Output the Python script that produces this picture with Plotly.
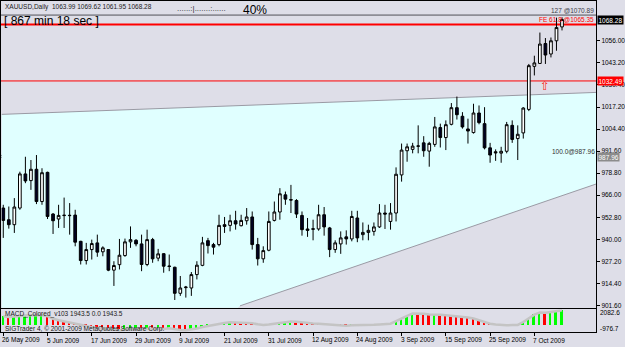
import plotly.graph_objects as go

# ---------------- data ----------------
opens = [958.4, 951.6, 948.7, 958.4, 978.3, 974.4, 981.0, 962.2, 979.2, 954.9,
         952.0, 954.0, 954.2, 954.3, 939.0, 927.8, 934.2, 938.1, 932.9, 934.2,
         922.2, 925.4, 930.7, 938.7, 939.6, 937.5, 925.5, 940.0, 929.2, 931.8,
         924.6, 923.9, 908.7, 912.0, 911.8, 919.6, 925.0, 939.4, 937.1, 937.1,
         948.7, 948.3, 951.0, 948.1, 951.0, 953.2, 937.1, 928.8, 933.8, 951.2,
         956.1, 966.1, 963.3, 962.8, 954.1, 946.2, 946.3, 946.2, 954.5, 946.8,
         934.2, 937.5, 941.6, 940.4, 952.6, 942.9, 944.2, 944.8, 947.4, 955.5,
         950.6, 955.5, 977.7, 991.8, 992.6, 994.4, 996.4, 991.6, 995.5, 1005.3,
         999.5, 1007.2, 1016.9, 1011.9, 1004.5, 1002.4, 1013.8, 1007.6, 993.5, 991.2,
         990.4, 991.5, 1006.6, 998.9, 1002.2, 1015.9, 1041.0, 1042.7, 1054.3, 1048.2,
         1055.9, 1063.99]
highs = [960.3, 959.3, 964.2, 979.6, 988.3, 986.4, 989.3, 981.6, 979.6, 955.5,
         960.3, 964.5, 961.3, 957.4, 939.3, 938.1, 940.0, 942.9, 936.1, 934.4,
         927.4, 940.4, 940.6, 947.7, 940.3, 942.9, 945.8, 941.0, 934.6, 932.0,
         931.3, 924.2, 918.8, 913.0, 921.1, 927.4, 941.6, 941.0, 938.1, 954.5,
         953.2, 954.5, 956.8, 954.5, 958.4, 956.4, 941.0, 936.1, 956.4, 962.2,
         970.0, 968.0, 971.9, 963.6, 956.4, 952.6, 951.6, 960.3, 959.0, 947.4,
         939.6, 944.8, 945.4, 956.8, 956.8, 950.0, 948.7, 950.0, 960.7, 960.3,
         961.3, 982.1, 996.0, 996.0, 996.4, 1006.6, 1000.3, 997.0, 1011.5, 1007.6,
         1009.5, 1019.6, 1023.4, 1014.3, 1010.5, 1019.2, 1018.2, 1017.2, 996.4, 992.6,
         994.1, 1008.6, 1009.5, 1006.6, 1017.2, 1042.4, 1047.2, 1060.7, 1057.5, 1057.8,
         1069.4, 1069.62]
lows = [941.0, 946.4, 943.9, 957.4, 972.9, 969.0, 960.7, 960.3, 952.0, 943.3,
        946.8, 946.8, 942.9, 936.1, 925.5, 925.5, 928.4, 930.0, 930.3, 921.6,
        913.0, 922.6, 930.0, 935.2, 936.1, 921.6, 924.5, 926.5, 927.4, 920.7,
        921.6, 904.8, 907.2, 906.2, 907.2, 916.8, 924.5, 931.9, 931.3, 936.1,
        943.9, 944.8, 945.8, 947.7, 948.7, 934.2, 924.9, 926.5, 933.2, 950.6,
        951.6, 960.3, 955.5, 952.6, 942.3, 941.6, 939.6, 945.2, 942.3, 929.8,
        932.3, 931.7, 937.1, 939.0, 938.5, 939.6, 939.6, 942.3, 946.8, 946.2,
        945.8, 950.6, 973.8, 985.4, 990.3, 990.3, 988.3, 982.5, 994.1, 993.7,
        992.2, 1006.6, 1010.0, 1004.7, 996.0, 1001.8, 1007.2, 992.6, 984.8, 985.9,
        984.8, 990.3, 996.4, 986.4, 998.9, 1014.9, 1035.7, 1042.4, 1042.4, 1046.2,
        1050.1, 1061.95]
closes = [951.2, 948.7, 959.0, 978.3, 974.2, 981.0, 962.2, 979.0, 953.5, 951.0,
          954.1, 954.2, 954.0, 938.5, 927.8, 934.2, 937.7, 932.7, 935.2, 922.2,
          924.9, 930.9, 938.7, 940.0, 937.5, 925.5, 940.0, 928.8, 931.7, 924.5,
          924.4, 908.7, 911.8, 912.3, 919.6, 925.1, 938.1, 936.5, 935.6, 948.3,
          947.7, 951.0, 949.1, 951.2, 953.2, 937.1, 928.8, 933.6, 950.6, 956.1,
          966.7, 963.6, 963.1, 954.9, 945.8, 945.4, 946.1, 954.5, 947.4, 934.2,
          938.1, 941.0, 940.4, 953.5, 941.0, 944.2, 945.4, 947.4, 955.5, 954.9,
          955.5, 978.1, 992.2, 994.1, 994.5, 994.6, 991.8, 996.1, 1005.7, 999.5,
          1007.0, 1016.9, 1012.8, 1005.7, 1003.3, 1013.8, 1008.2, 993.5, 989.3, 990.6,
          991.5, 1007.0, 998.4, 1001.4, 1016.7, 1041.4, 1043.0, 1054.0, 1047.6, 1055.9,
          1063.6, 1068.28]
macd = [1150, 1050, 1100, 1200, 1250, 1280, 1300, 1320, 1150, 800,
        600, 450, 300, 100, -100, -250, -350, -450, -500, -600,
        -700, -720, -680, -600, -560, -580, -520, -540, -530, -560,
        -450, -600, -700, -720, -650, -500, -300, -150, -20, 150,
        250, 330, 320, 300, 290, 200, 60, -20, 40, 150,
        300, 380, 430, 400, 300, 220, 160, 150, 100, -30,
        -90, -110, -120, -60, -70, -60, -40, -10, 40, 80,
        140, 500, 900, 1200, 1500, 1490, 1460, 1360, 1370, 1330,
        1260, 1200, 1120, 1050, 980, 830, 600, 380, 150, 50,
        -30, -60, -40, -20, 370, 820, 1360, 1630, 1600, 1720,
        1860, 1943.5]

tick_bars = [0, 8, 16, 24, 32, 40, 48, 56, 64, 72, 80, 88, 96]
tick_labels = ["26 May 2009", "5 Jun 2009", "17 Jun 2009", "29 Jun 2009", "9 Jul 2009",
               "21 Jul 2009", "31 Jul 2009", "12 Aug 2009", "24 Aug 2009", "3 Sep 2009",
               "15 Sep 2009", "25 Sep 2009", "7 Oct 2009"]
price_ticks = [901.60, 914.40, 927.20, 940.00, 952.80, 966.00, 978.80, 991.60,
               1004.40, 1017.20, 1030.40, 1043.20, 1056.00]

fib127 = 1070.89
fe618 = 1065.35
red_level = 1032.49
fib100 = 987.96
bid = 1068.28
macd_max, macd_min = 2082.6, -976.7
# drawn channel objects: (bar, price) end points
chan_upper = [(-0.32, 1013.0), (107.16, 1025.8)]
chan_lower = [(42.8, 901.4), (107.16, 972.4)]
arrow_bar, arrow_price = 98, 1029.5

# ---------------- figure ----------------
W, H = 625, 347
BG = "#dedee8"
CYAN = "#e0ffff"
FONT = "Liberation Sans"
xs = list(range(len(closes)))


def py(y):
    return 1 - y / H


fig = go.Figure()
fig.add_trace(go.Candlestick(
    x=xs, open=opens, high=highs, low=lows, close=closes,
    increasing=dict(line=dict(color="black", width=1), fillcolor="white"),
    decreasing=dict(line=dict(color="black", width=1), fillcolor="#000022"),
    whiskerwidth=0, hoverinfo="skip", xaxis="x", yaxis="y"))

bar_colors = ["#00ff00" if (i == 0 or macd[i] >= macd[i - 1]) else "#ff0000"
              for i in range(len(macd))]
fig.add_trace(go.Scatter(x=xs, y=macd, mode="lines",
                         line=dict(color="#c4c4c4", width=2.5),
                         hoverinfo="skip", xaxis="x2", yaxis="y2"))
fig.add_trace(go.Bar(x=xs, y=macd, marker=dict(color=bar_colors, line=dict(width=0)),
                     width=0.36, hoverinfo="skip", xaxis="x2", yaxis="y2"))

xr = [-0.32, 107.16]
ybot = 900.3
shapes = []
# channel fill
path = (f"M {chan_upper[0][0]},{chan_upper[0][1]} L {chan_upper[1][0]},{chan_upper[1][1]} "
        f"L {chan_lower[1][0]},{chan_lower[1][1]} L {chan_lower[0][0]},{chan_lower[0][1]} "
        f"L {chan_lower[0][0] - 1},{ybot - 2} L {chan_upper[0][0]},{ybot - 2} Z")
shapes.append(dict(type="path", path=path, xref="x", yref="y", fillcolor=CYAN,
                   line=dict(width=0), layer="below"))
for (a, b) in (chan_upper, chan_lower):
    shapes.append(dict(type="line", xref="x", yref="y", x0=a[0], y0=a[1], x1=b[0], y1=b[1],
                       line=dict(color="#9a9aa4", width=1), layer="below"))
# horizontal levels
shapes.append(dict(type="line", xref="paper", yref="y", x0=0, x1=597 / W, y0=fib127, y1=fib127,
                   line=dict(color="#505058", width=1), layer="below"))
shapes.append(dict(type="line", xref="paper", yref="y", x0=0, x1=597 / W, y0=fe618, y1=fe618,
                   line=dict(color="#ff0000", width=2), layer="below"))
shapes.append(dict(type="line", xref="paper", yref="y", x0=0, x1=597 / W, y0=red_level, y1=red_level,
                   line=dict(color="#ff0000", width=1), layer="below"))
for off in (0.0, 1.1):
    shapes.append(dict(type="line", xref="paper", yref="y", x0=0, x1=597 / W,
                       y0=fib100 + off, y1=fib100 + off,
                       line=dict(color="#6f7d82", width=1), layer="below"))

ann = []
small = dict(family=FONT, size=6.5, color="#000000")
for b, t in zip(tick_bars, tick_labels):
    ann.append(dict(x=b, xref="x2", y=py(341), yref="paper", text=t, showarrow=False,
                    xanchor="left", yanchor="middle", xshift=-2, font=small, borderpad=0))
ann.append(dict(x=3 / W, xref="paper", y=py(6), yref="paper",
                text="XAUUSD,Daily  1063.99 1069.62 1061.95 1068.28", showarrow=False,
                xanchor="left", yanchor="middle", font=dict(family=FONT, size=6.5, color="#202020"),
                borderpad=0))
ann.append(dict(x=176 / W, xref="paper", y=py(8), yref="paper", text="......:|.......:......",
                showarrow=False, xanchor="left", yanchor="middle",
                font=dict(family=FONT, size=8, color="#303030"), borderpad=0))
ann.append(dict(x=242 / W, xref="paper", y=py(9), yref="paper", text="40%", showarrow=False,
                xanchor="left", yanchor="middle", font=dict(family=FONT, size=12, color="#000000"),
                borderpad=0))
ann.append(dict(x=2 / W, xref="paper", y=py(20.5), yref="paper", text="[ 867 min 18 sec ]",
                showarrow=False, xanchor="left", yanchor="middle",
                font=dict(family=FONT, size=12, color="#000000"), borderpad=0))
ann.append(dict(x=596 / W, xref="paper", y=fib127, yref="y", text=f"127 @{fib127:.2f}",
                showarrow=False, xanchor="right", yanchor="bottom",
                font=dict(family=FONT, size=6.5, color="#404048"), borderpad=0))
ann.append(dict(x=596 / W, xref="paper", y=fe618, yref="y", text=f"FE 61.8 @{fe618:.2f}",
                showarrow=False, xanchor="right", yanchor="bottom", yshift=1,
                font=dict(family=FONT, size=6.5, color="#ff0000"), borderpad=0))
ann.append(dict(x=597 / W, xref="paper", y=fib100, yref="y", text=f"100.0@{fib100:.2f}",
                showarrow=False, xanchor="right", yanchor="bottom", yshift=1,
                font=dict(family=FONT, size=6.5, color="#303030"), borderpad=0))
for val, bgc in ((bid, "#000000"), (red_level, "#ff0000"), (fib100, "#8c8c8c")):
    ann.append(dict(x=598 / W, xref="paper", y=val, yref="y", text=f"{val:.2f}",
                    showarrow=False, xanchor="left", yanchor="middle", bgcolor=bgc,
                    font=dict(family=FONT, size=6.5, color="#ffffff"), borderpad=0.5))
ann.append(dict(x=arrow_bar, xref="x", y=arrow_price, yref="y", text="⇧", showarrow=False,
                font=dict(family="DejaVu Sans", size=12, color="#ff2020")))
ann.append(dict(x=3 / W, xref="paper", y=py(315), yref="paper",
                text=f"MACD_Colored_v103 {macd[-1]:.1f} 0.0 {macd[-1]:.1f}", showarrow=False,
                xanchor="left", yanchor="middle", font=dict(family=FONT, size=6.5, color="#202020"),
                borderpad=0))
ann.append(dict(x=3 / W, xref="paper", y=py(329.5), yref="paper",
                text="SIGTrader 4, © 2001-2009 MetaQuotes Software Corp.", showarrow=False,
                xanchor="left", yanchor="middle", font=dict(family=FONT, size=6.5, color="#202020"),
                borderpad=0))
ann.append(dict(x=600 / W, xref="paper", y=py(313.5), yref="paper", text=f"{macd_max:.1f}",
                showarrow=False, xanchor="left", yanchor="middle", font=small, borderpad=0))
ann.append(dict(x=600 / W, xref="paper", y=py(329.5), yref="paper", text=f"{macd_min:.1f}",
                showarrow=False, xanchor="left", yanchor="middle", font=small, borderpad=0))

axcommon = dict(showgrid=False, zeroline=False, showline=True, linecolor="#000000",
                linewidth=1, mirror=True)
fig.update_layout(
    width=W, height=H, margin=dict(l=0, r=0, t=0, b=0),
    paper_bgcolor=BG, plot_bgcolor=BG, showlegend=False, bargap=0,
    xaxis=dict(domain=[0.5 / W, 597 / W], range=xr, anchor="y", showticklabels=False,
               ticks="", rangeslider=dict(visible=False), **axcommon),
    yaxis=dict(domain=[py(308.5), py(0.5)], range=[ybot, 1078.8], side="right", anchor="x",
               tickvals=price_ticks, ticktext=[f"{v:.2f}" for v in price_ticks],
               tickfont=small, ticks="outside", ticklen=3, tickcolor="#000000", **axcommon),
    xaxis2=dict(domain=[0.5 / W, 597 / W], range=xr, anchor="y2", tickvals=tick_bars,
                ticks="outside", ticklen=3, tickcolor="#000000", showticklabels=False,
                **axcommon),
    yaxis2=dict(domain=[py(333), py(310)], range=[macd_min, macd_max], side="right",
                anchor="x2", showticklabels=False, ticks="", **axcommon),
    shapes=shapes, annotations=ann,
)
fig.write_html("out.html")
